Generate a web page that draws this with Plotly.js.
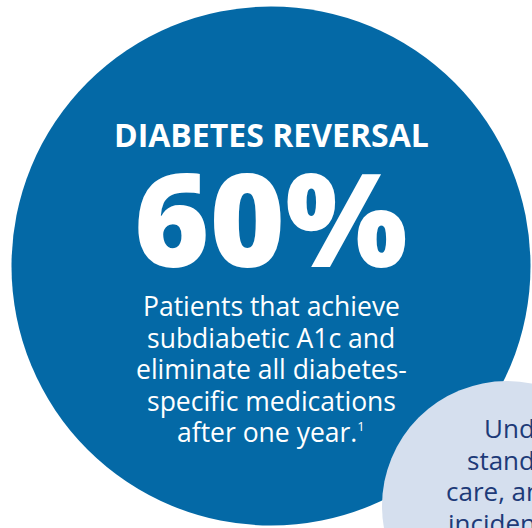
<!DOCTYPE html>
<html><head><meta charset="utf-8">
<script src="https://cdn.plot.ly/plotly-3.0.1.min.js"></script>
<style>html,body{margin:0;padding:0;background:#fff;}#chart{width:532px;height:528px;}</style>
</head><body><div id="chart"></div>
<script>
var headline = "DIABETES REVERSAL";
var statValue = 60;
var statUnit = "%";
var bodyLines = ["Patients that achieve", "subdiabetic A1c and", "eliminate all diabetes-", "specific medications", "after one year.<sup><span style=\"font-size:13px\">1</span></sup>"];
var sideLines = ["Under the", "standard of", "care, annual", "incidence"];

var W = 532, H = 528;
var blue = "#0469a6", light = "#d5dfee", navy = "#1d3a78";
var font = "Open Sans, Noto Sans, sans-serif";

var ann = [];
ann.push({x: 271, y: 134, text: headline, showarrow: false, xanchor: "center", yanchor: "middle",
  font: {family: font, size: 32, color: "#fff", weight: 700}});
ann.push({x: 271, y: 217, text: statValue + statUnit, showarrow: false, xanchor: "center", yanchor: "middle",
  font: {family: font, size: 129, color: "#fff", weight: 800}});
var y0 = 306, pitch = 31.5;
bodyLines.forEach(function(t, i){
  ann.push({x: 271, y: y0 + i*pitch, text: t, showarrow: false, xanchor: "center", yanchor: "middle",
    font: {family: font, size: 26.5, color: "#fff"}});
});
var sx = [482, 465, 444, 446];
sideLines.forEach(function(t, i){
  ann.push({x: sx[i], y: 428 + i*31.5, text: t, showarrow: false, xanchor: "left", yanchor: "middle",
    font: {family: font, size: 26, color: navy}});
});

var layout = {
  width: W, height: H, margin: {l:0, r:0, t:0, b:0},
  paper_bgcolor: "#fff", plot_bgcolor: "#fff", showlegend: false,
  xaxis: {range: [0, W], visible: false, fixedrange: true},
  yaxis: {range: [H, 0], visible: false, fixedrange: true},
  shapes: [
    {type: "circle", xref: "x", yref: "y", x0: 271-259.5, x1: 271+259.5, y0: 266-259.5, y1: 266+259.5,
      fillcolor: blue, line: {width: 0}, layer: "below"},
    {type: "circle", xref: "x", yref: "y", x0: 507-125, x1: 507+125, y0: 506-125, y1: 506+125,
      fillcolor: light, line: {width: 0}, layer: "below"}
  ],
  annotations: ann
};
Plotly.newPlot("chart", [{x: [], y: [], type: "scatter"}], layout, {displayModeBar: false, staticPlot: true});
</script></body></html>
